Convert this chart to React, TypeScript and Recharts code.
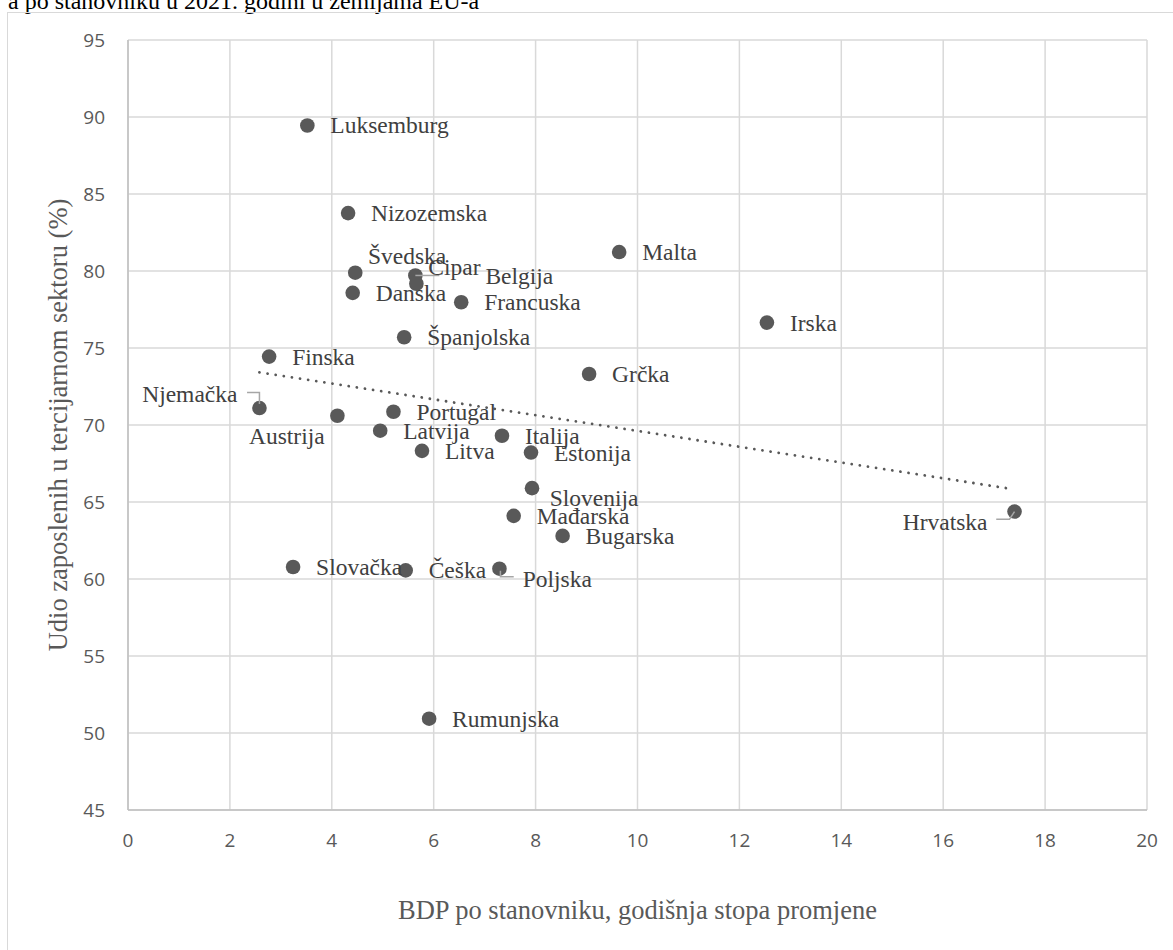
import React from 'react';
import { ScatterChart, Scatter, XAxis, YAxis, CartesianGrid, Label } from 'recharts';

// zemlje EU-a, redoslijed kako su očitane s grafa
const countries = [
  'Luksemburg', 'Nizozemska', 'Švedska', 'Cipar', 'Belgija', 'Danska', 'Francuska',
  'Španjolska', 'Finska', 'Njemačka', 'Austrija', 'Portugal', 'Latvija', 'Litva',
  'Italija', 'Estonija', 'Slovenija', 'Mađarska', 'Bugarska', 'Slovačka', 'Češka',
  'Poljska', 'Rumunjska', 'Malta', 'Grčka', 'Irska', 'Hrvatska',
];
const gdpGrowth = [
  3.52, 4.32, 4.46, 5.64, 5.66, 4.41, 6.54,
  5.42, 2.77, 2.58, 4.11, 5.21, 4.95, 5.77,
  7.34, 7.91, 7.93, 7.57, 8.53, 3.24, 5.45,
  7.29, 5.91, 9.64, 9.05, 12.54, 17.4,
];
const tertiaryShare = [
  89.45, 83.76, 79.89, 79.71, 79.17, 78.58, 77.97,
  75.7, 74.44, 71.1, 70.6, 70.86, 69.63, 68.32,
  69.3, 68.21, 65.9, 64.1, 62.8, 60.78, 60.56,
  60.67, 50.93, 81.23, 73.31, 76.65, 64.38,
];

// linearni trend (krajnje točke očitane s grafa)
const trendX = [2.58, 17.38];
const trendY = [73.42, 65.83];

const xTicks = [0, 2, 4, 6, 8, 10, 12, 14, 16, 18, 20];
const yTicks = [45, 50, 55, 60, 65, 70, 75, 80, 85, 90, 95];

const points = countries.map((name, i) => ({ name, x: gdpGrowth[i], y: tertiaryShare[i] }));
const trend = trendX.map((x, i) => ({ x, y: trendY[i] }));

// smještaj oznaka koje nisu desno od točke
type Placement = { dx?: number; dy?: number; anchor?: 'start' | 'middle' | 'end'; leader?: number[][] };
const placement: Record<string, Placement> = {
  'Švedska': { dx: 12.7, dy: -17 },
  Cipar: { dx: 13, dy: -8, leader: [[0, 0], [24, 0]] },
  Belgija: { dx: 69, dy: -8 },
  Slovenija: { dx: 17.7, dy: 9.4 },
  Poljska: { dx: 23.3, dy: 10.7, leader: [[1, 2], [1, 8], [14.3, 8]] },
  'Njemačka': { dx: -22, dy: -14, anchor: 'end', leader: [[0, -4], [0, -15.6], [-12.4, -15.6]] },
  Austrija: { dx: -50.6, dy: 20, anchor: 'middle' },
  Hrvatska: { dx: -27, dy: 10, anchor: 'end', leader: [[0, 0], [-5, 7.6], [-18.3, 7.6]] },
};

const serif = '"Liberation Serif", "Times New Roman", serif';
const tickStyle = { fontFamily: '"Open Sans", sans-serif', fontSize: 19, fill: '#595959' };

const Dot = (props: any) => {
  const { cx, cy } = props;
  return <circle cx={cx} cy={cy} r={7.3} fill="#595959" />;
};

const NoDot = () => <g />;

const CountryLabel = (props: any) => {
  const { cx, cy, payload } = props;
  const p = placement[payload.name] || {};
  const dx = p.dx ?? 23;
  const dy = p.dy ?? 0;
  return (
    <g>
      {p.leader && (
        <polyline
          points={p.leader.map(([a, b]) => `${cx + a},${cy + b}`).join(' ')}
          fill="none"
          stroke="#a6a6a6"
          strokeWidth={1.5}
        />
      )}
      <text
        x={cx + dx}
        y={cy + dy}
        textAnchor={p.anchor || 'start'}
        dominantBaseline="central"
        fontFamily={serif}
        fontSize={23.5}
        fill="#404040"
      >
        {payload.name}
      </text>
    </g>
  );
};

export default function App() {
  return (
    <div style={{ position: 'absolute', left: 0, top: 0, width: 1173, height: 950, overflow: 'hidden', background: '#fff' }}>
      <div
        style={{
          position: 'absolute', left: 8, top: -12, fontFamily: serif, fontSize: 24,
          lineHeight: '27px', color: '#000', whiteSpace: 'nowrap',
        }}
      >
        a po stanovniku u 2021. godini u zemljama EU-a
      </div>
      <div
        style={{
          position: 'absolute', left: 7, top: 12, width: 1200, height: 1000,
          border: '1.5px solid #d9d9d9', boxSizing: 'border-box',
        }}
      />
      <div style={{ position: 'absolute', left: 0, top: 0 }}>
        <ScatterChart width={1173} height={950} margin={{ top: 40, right: 26, left: 20, bottom: 100 }}>
          <CartesianGrid stroke="#d9d9d9" strokeWidth={1.5} />
          <XAxis
            type="number"
            dataKey="x"
            domain={[0, 20]}
            ticks={xTicks}
            height={40}
            tickLine={false}
            tickMargin={18}
            axisLine={{ stroke: '#bfbfbf', strokeWidth: 1.5 }}
            tick={tickStyle}
          >
            <Label
              value="BDP po stanovniku, godišnja stopa promjene"
              position="bottom"
              offset={50}
              style={{ fontFamily: serif, fontSize: 26.5, fill: '#595959' }}
            />
          </XAxis>
          <YAxis
            type="number"
            dataKey="y"
            domain={[45, 95]}
            ticks={yTicks}
            width={108}
            tickLine={false}
            tickMargin={17}
            axisLine={{ stroke: '#bfbfbf', strokeWidth: 1.5 }}
            tick={tickStyle}
          >
            <Label
              value="Udio zaposlenih u tercijarnom sektoru (%)"
              angle={-90}
              position="insideLeft"
              offset={38}
              style={{ fontFamily: serif, fontSize: 26.5, fill: '#595959', textAnchor: 'middle' }}
            />
          </YAxis>
          <Scatter
            data={trend}
            shape={NoDot}
            line={{ stroke: '#595959', strokeWidth: 2.8, strokeDasharray: '0.01 8.2', strokeLinecap: 'round' }}
            isAnimationActive={false}
          />
          <Scatter data={points} shape={Dot} isAnimationActive={false} />
          <Scatter data={points} shape={CountryLabel} isAnimationActive={false} />
        </ScatterChart>
      </div>
    </div>
  );
}
